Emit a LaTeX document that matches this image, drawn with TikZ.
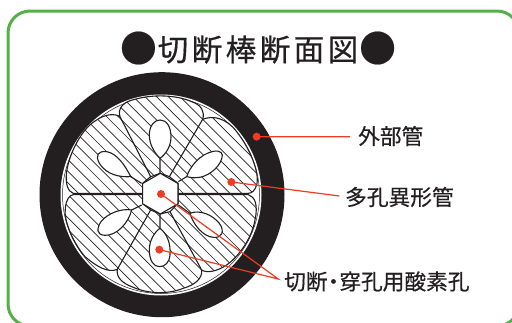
\documentclass[tikz,border=0pt]{standalone}
\usepackage{fontspec}
\newfontfamily\cjk[FakeBold=0.35]{Noto Sans CJK JP}
\newfontfamily\cjkt[FakeBold=0.5]{Noto Sans CJK JP}
\definecolor{frameg}{HTML}{55B04A}
\definecolor{leadred}{HTML}{EE3B24}
\definecolor{inkk}{HTML}{231F20}
\tikzset{
  leader/.style={draw=leadred,line width=1.2pt},
  reddot/.style={circle,fill=leadred,inner sep=0pt,minimum size=8pt},
  lab/.style={font=\cjk\fontsize{21.7}{22}\selectfont,text=inkk,inner sep=0pt},
  partline/.style={draw=inkk,line width=1.1pt},
  hatchline/.style={draw=inkk,line width=0.7pt},
}
\def\petals{
 (332,350) -- (240,170) .. controls (232,145) and (250,125) .. (285,118) .. controls (340,102) and (410,105) .. (455,125) .. controls (485,135) and (495,155) .. (488,178) -- (388,350) -- (361,340) -- cycle
 (388,350) -- (488,178) .. controls (520,165) and (560,175) .. (590,215) .. controls (630,265) and (660,340) .. (650,375) .. controls (645,392) and (635,400) .. (625,400) -- (414,400) -- (414,370) -- cycle
 (414,404) -- (625,404) .. controls (645,410) and (655,435) .. (645,480) .. controls (635,540) and (590,595) .. (560,615) .. controls (530,635) and (500,640) .. (485,630) -- (390,455) -- (414,431) -- cycle
 (390,455) -- (485,630) .. controls (488,655) and (465,675) .. (430,685) .. controls (380,705) and (320,700) .. (280,682) .. controls (245,670) and (228,650) .. (232,628) -- (332,450) -- (361,462) -- cycle
 (308,431) -- (332,450) -- (232,628) .. controls (205,640) and (170,620) .. (135,590) .. controls (100,550) and (70,480) .. (76,445) .. controls (78,420) and (88,405) .. (100,404) -- (308,404) -- cycle
 (308,400) -- (100,400) .. controls (85,395) and (75,375) .. (80,335) .. controls (88,280) and (125,205) .. (170,180) .. controls (195,162) and (225,160) .. (240,170) -- (332,350) -- (308,370) -- cycle
}
\def\lobes{
 (360,295) .. controls (345,280) and (328,255) .. (328,225) .. controls (328,195) and (345,180) .. (360,180) .. controls (380,180) and (393,200) .. (393,232) .. controls (393,260) and (375,285) .. (360,295) -- cycle
 (440,350) .. controls (450,320) and (480,282) .. (520,274) .. controls (542,270) and (552,280) .. (545,297) .. controls (535,327) and (500,352) .. (470,353) .. controls (458,354) and (448,352) .. (440,350) -- cycle
 (272,350) .. controls (240,352) and (200,345) .. (178,310) .. controls (165,285) and (175,272) .. (200,275) .. controls (230,280) and (255,315) .. (272,350) -- cycle
 (275,450) .. controls (265,490) and (230,527) .. (195,526) .. controls (168,525) and (170,505) .. (183,485) .. controls (205,458) and (245,445) .. (275,450) -- cycle
 (450,460) .. controls (480,448) and (518,465) .. (538,490) .. controls (556,515) and (545,535) .. (520,532) .. controls (490,530) and (460,495) .. (450,460) -- cycle
 (360,505) .. controls (380,520) and (393,550) .. (390,585) .. controls (388,608) and (375,620) .. (358,620) .. controls (340,620) and (328,600) .. (328,570) .. controls (328,540) and (345,515) .. (360,505) -- cycle
}
\begin{document}
\begin{tikzpicture}[x=1pt,y=-1pt]
\useasboundingbox (0,0) rectangle (512,322);
\fill[white] (0,0) rectangle (512,322);
\begin{scope}
\clip (0,0) rectangle (512,322);
\draw[frameg,line width=3pt,rounded corners=22pt] (8,11) rectangle (519,326);
\end{scope}
% sheath
\fill[inkk] (162,194.7) circle (122.5);
\fill[white] (161,195) circle (100.5);
\draw[inkk,line width=0.5pt] (161,195) circle (98.5);
\begin{scope}[shift={(40,60)},x=0.3333pt,y=-0.3333pt]
 \fill[white] \petals;
 \begin{scope}
  \clip \petals;
  \foreach \i in {-25,...,25}
    \draw[hatchline] ({360+\i*35-330},70) -- ({360+\i*35+330},730);
 \end{scope}
 \draw[partline] \petals;
 \filldraw[fill=white,partline] \lobes;
 \draw[partline] (360,295) -- (360,340) (440,350) -- (415,365) (272,350) -- (305,370) (275,450) -- (305,435) (450,460) -- (415,435) (360,505) -- (360,462);
 \filldraw[fill=white,partline] (361,340) -- (414,370.5) -- (414,431.5) -- (361,462) -- (308,431.5) -- (308,370.5) -- cycle;
 \node[reddot] (dOuter) at (650,230) {};
 \node[reddot] (dPetal) at (574,366) {};
 \node[reddot] (dHex) at (363,402) {};
 \node[reddot] (dLobe) at (358,569) {};
\end{scope}
\node[lab,anchor=west] (lOuter) at (358,136) {外部管};
\node[lab,anchor=west] (lPetal) at (345,197) {多孔異形管};
\node[lab,anchor=west] (lHoles) at (284,281.5) {切断\hspace{-5pt}・\hspace{-5pt}穿孔用酸素孔};
\coordinate (eOuter) at (350,136.7);
\coordinate (ePetal) at (339.3,196);
\coordinate (eHoles) at (278.3,279);
\draw[leader] (dOuter.center) -- (eOuter);
\draw[leader] (dPetal.center) -- (ePetal);
\draw[leader] (dHex.center) -- (eHoles) -- (dLobe.center);
\node[font=\cjkt\fontsize{30.5}{31}\selectfont,text=inkk,inner sep=0pt] (title) at (258,48) {\raisebox{-1pt}{\scalebox{1.2}{●}}\hspace{1pt}切\hspace{3.5pt}断\hspace{3.5pt}棒\hspace{3.5pt}断\hspace{3.5pt}面\hspace{3.5pt}図\hspace{1pt}\raisebox{-1pt}{\scalebox{1.2}{●}}};
\end{tikzpicture}
\end{document}
